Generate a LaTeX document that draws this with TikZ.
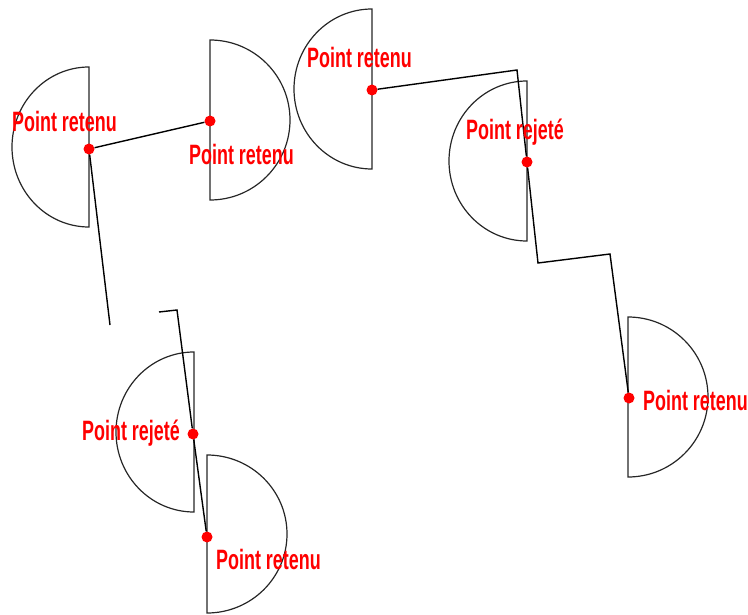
\documentclass[tikz,border=0pt]{standalone}
\usepackage{fontspec}
\newfontfamily\labfont[FakeStretch=0.64]{Liberation Sans}

\begin{document}
\begin{tikzpicture}[x=1pt,y=-1pt,
  half/.style={black!85,line width=1.2pt},
  trail/.style={black,line width=1.4pt},
  dot/.style={circle,fill=red,inner sep=0pt,minimum size=11pt},
  lab/.style={anchor=base west,inner sep=0pt,text=red,font=\labfont\bfseries\fontsize{28}{30}\selectfont}]
\useasboundingbox (0,0) rectangle (748,615);

% demi-cercles
\draw[half] (89,67) arc[start angle=270,end angle=90,x radius=77,y radius=80]--cycle;
\draw[half] (210,40) arc[start angle=-90,end angle=90,x radius=80,y radius=80]--cycle;
\draw[half] (372,9) arc[start angle=270,end angle=90,x radius=78,y radius=80]--cycle;
\draw[half] (527,81) arc[start angle=270,end angle=90,x radius=78,y radius=80]--cycle;
\draw[half] (628,317) arc[start angle=-90,end angle=90,x radius=80,y radius=80]--cycle;
\draw[half] (194,352) arc[start angle=270,end angle=90,x radius=78,y radius=80]--cycle;
\draw[half] (207,455) arc[start angle=-90,end angle=90,x radius=80,y radius=79]--cycle;

% points
\node[dot] (d1) at (89,149) {};
\node[dot] (d2) at (210,121) {};
\node[dot] (d3) at (372,90) {};
\node[dot] (d4) at (527,162) {};
\node[dot] (d5) at (629,398) {};
\node[dot] (d6) at (193,434) {};
\node[dot] (d7) at (207,537) {};

\coordinate (e1) at (110,325);
\coordinate (s1) at (159,312);
\coordinate (k1) at (177,310);
\coordinate (k2) at (517,70);
\coordinate (k3) at (538,263);
\coordinate (k4) at (610,254);

% trajet
\draw[trail] (d1)--(d2);
\draw[trail] (d1)--(e1);
\draw[trail] (s1)--(k1)--(d6)--(d7);
\draw[trail] (d3)--(k2)--(d4)--(k3)--(k4)--(d5);

\node[lab] (l1) at (12,132) {Point retenu};
\node[lab] (l2) at (189,165) {Point retenu};
\node[lab] (l3) at (307,68) {Point retenu};
\node[lab] (l4) at (466,140) {Point rejeté};
\node[lab] (l5) at (643,410) {Point retenu};
\node[lab] (l6) at (82,440) {Point rejeté};
\node[lab] (l7) at (216,569) {Point retenu};
\end{tikzpicture}
\end{document}
